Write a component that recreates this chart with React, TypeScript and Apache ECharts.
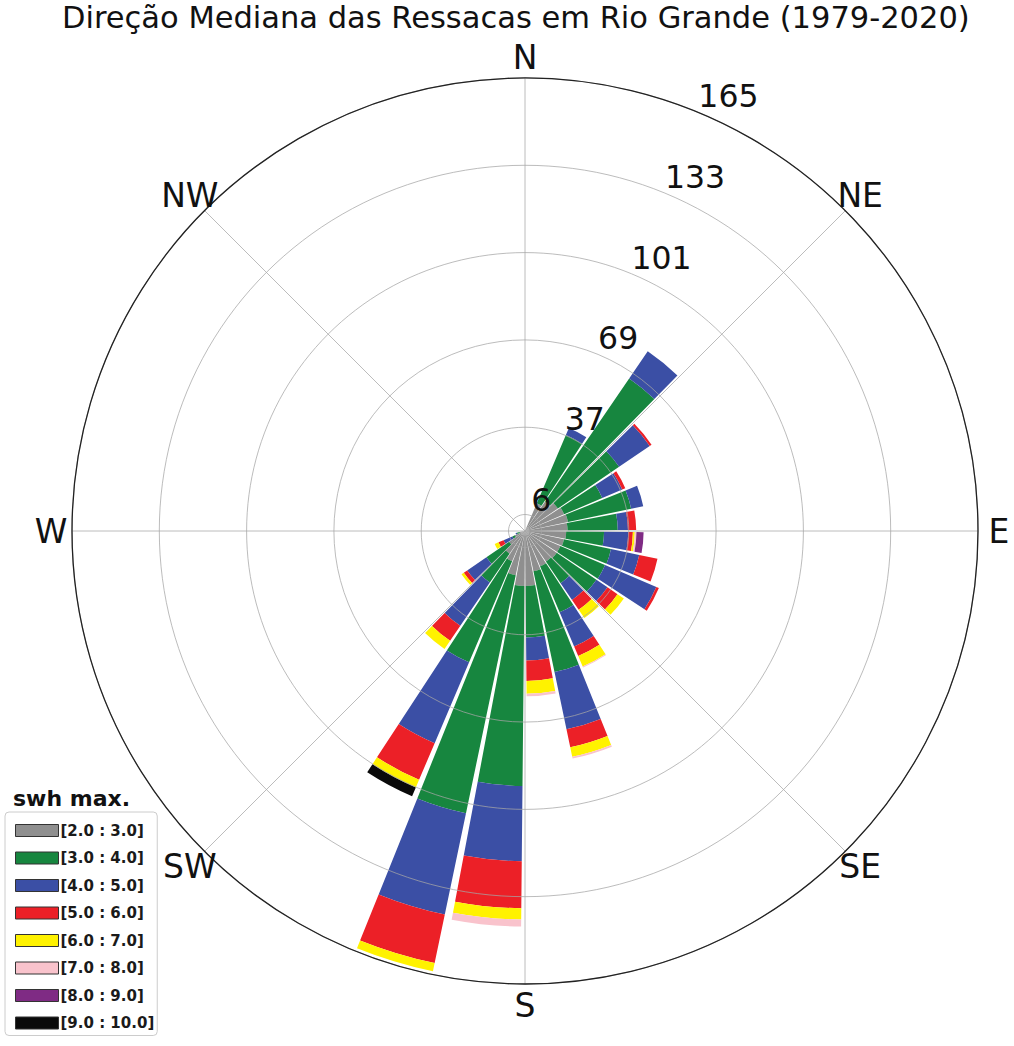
import React, { useEffect, useRef } from "react";
import * as echarts from "echarts";

// 32 direction sectors of 11.25°, starting at N and going clockwise
const sectors = Array.from({ length: 32 }, (_, i) => `S${i}`);

const classNames = [
  "[2.0 : 3.0]",
  "[3.0 : 4.0]",
  "[4.0 : 5.0]",
  "[5.0 : 6.0]",
  "[6.0 : 7.0]",
  "[7.0 : 8.0]",
  "[8.0 : 9.0]",
  "[9.0 : 10.0]",
];
const classColors = ["#8f8f8f", "#17863f", "#3b4fa5", "#ec2027", "#fff200", "#f9c3cc", "#7f2b84", "#0a0a0a"];

// segment sizes per sector (stacked)
const swh2_3 = [0, 0, 11, 13, 14.5, 15.5, 16, 15.5, 15, 14.5, 14, 14, 13.5, 14, 15, 20, 20, 16.5, 12, 10, 7, 4, 2, 0, 0, 0, 0, 0, 0, 0, 0, 0];
const swh3_4 = [0, 0, 27, 54.3, 27, 15.1, 23.5, 18.3, 13.8, 17.5, 17.7, 17.5, 9.5, 18.2, 37.5, 18.8, 72.9, 88.5, 40, 12.7, 10, 1, 1, 0, 0, 0, 0, 0, 0, 0, 0, 0];
const swh4_5 = [0, 0, 2.8, 12, 13.5, 7.9, 4.5, 3.7, 8.8, 10.5, 20.3, 4.9, 7.4, 13.5, 21.3, 8.4, 27.4, 37.7, 32, 19.1, 8.5, 3.5, 0.5, 0, 0, 0, 0, 0, 0, 0, 0, 0];
const swh5_6 = [0, 0, 0, 0, 0.8, 1.2, 0, 3, 1.7, 6.8, 1, 4.4, 4.3, 3.8, 6.7, 7.4, 17.1, 18.1, 14.5, 6.6, 1.5, 2, 0, 0, 0, 0, 0, 0, 0, 0, 0, 0];
const swh6_7 = [0, 0, 0, 0, 0, 0, 0, 0, 0.7, 0, 0, 2.8, 3.7, 4.1, 3.5, 4.7, 4.1, 3, 3, 3.6, 1, 1.5, 0, 0, 0, 0, 0, 0, 0, 0, 0, 0];
const swh7_8 = [0, 0, 0, 0, 0, 0, 0, 0, 0.6, 0, 0, 0, 0, 0.4, 0.7, 0.9, 2.6, 0, 0, 0, 0, 0, 0, 0, 0, 0, 0, 0, 0, 0, 0, 0];
const swh8_9 = [0, 0, 0, 0, 0, 0, 0, 0, 2.6, 0, 0, 0, 0, 0, 0, 0, 0, 0, 0, 0, 0, 0, 0, 0, 0, 0, 0, 0, 0, 0, 0, 0];
const swh9_10 = [0, 0, 0, 0, 0, 0, 0, 0, 0, 0, 0, 0, 0, 0, 0, 0, 0, 0, 3.5, 0, 0, 0, 0, 0, 0, 0, 0, 0, 0, 0, 0, 0];

const classData = [swh2_3, swh3_4, swh4_5, swh5_6, swh6_7, swh7_8, swh8_9, swh9_10];

const dirLabels = ["N", "NE", "E", "SE", "S", "SW", "W", "NW"];
const radialTicks = [6, 37.8, 69.6, 101.4, 133.2, 165];
const radialLabels = ["6", "37", "69", "101", "133", "165"];
const RMAX = 165;

const CX = 525;
const CY = 531;
const R = 453;
const LABEL_R = 474;
const FONT = "DejaVu Sans";

export default function App() {
  const ref = useRef<HTMLDivElement>(null);

  useEffect(() => {
    if (!ref.current) return;
    const chart = echarts.init(ref.current, null, { renderer: "svg" });
    const gridLine = { color: "rgba(165,165,165,0.75)", width: 1 };
    const innerR = (R * radialTicks[0]) / RMAX;

    const dirTexts = dirLabels.map((t, i) => {
      const a = (i * 45 * Math.PI) / 180;
      return {
        type: "text",
        z: 10,
        x: CX + LABEL_R * Math.sin(a),
        y: CY - LABEL_R * Math.cos(a),
        style: {
          text: t,
          fontSize: 33,
          lineHeight: 28,
          fontFamily: FONT,
          fill: "#111",
          align: "center",
          verticalAlign: "middle",
        },
      };
    });

    const option: any = {
      animation: false,
      backgroundColor: "#ffffff",
      title: [
        {
          text: "Direção Mediana das Ressacas em Rio Grande (1979-2020)",
          left: 62,
          top: 3,
          padding: 0,
          textStyle: { fontSize: 30.5, lineHeight: 28, fontWeight: "normal", fontFamily: FONT, color: "#111" },
        },
        {
          text: "swh max.",
          left: 13,
          top: 787,
          padding: 0,
          textStyle: { fontSize: 22, fontWeight: "bold", fontFamily: FONT, color: "#111" },
        },
      ],
      graphic: dirTexts,
      legend: {
        orient: "vertical",
        left: 5,
        top: 812,
        padding: [11, 3, 5, 10],
        itemWidth: 43,
        itemHeight: 12,
        itemGap: 12.5,
        icon: "rect",
        backgroundColor: "#ffffff",
        borderColor: "#cccccc",
        borderWidth: 1,
        borderRadius: 4,
        itemStyle: { borderColor: "#333", borderWidth: 1 },
        textStyle: { fontSize: 15, fontWeight: "bold", fontFamily: FONT, color: "#1a1a1a", padding: [0, 0, 0, -3] },
        data: classNames,
      },
      polar: [
        { center: [CX, CY], radius: [0, R] },
        { center: [CX, CY], radius: [0, R] },
        { center: [CX, CY], radius: [innerR, R] },
      ],
      angleAxis: [
        {
          polarIndex: 0,
          type: "category",
          data: sectors,
          startAngle: 90,
          clockwise: true,
          boundaryGap: true,
          axisLine: { show: false },
          axisTick: { show: false },
          axisLabel: { show: false },
          splitLine: { show: false },
        },
        {
          polarIndex: 1,
          type: "value",
          min: 0,
          max: 360,
          interval: 45,
          startAngle: 90,
          clockwise: true,
          z: 5,
          axisLine: { show: true, lineStyle: { color: "#222", width: 1.3 } },
          axisTick: { show: false },
          axisLabel: { show: false },
          splitLine: { show: true, lineStyle: gridLine },
        },
        {
          polarIndex: 2,
          type: "value",
          min: 0,
          max: 360,
          startAngle: 67.5,
          clockwise: true,
          show: false,
        },
      ],
      radiusAxis: [
        { polarIndex: 0, type: "value", min: 0, max: RMAX, show: false },
        { polarIndex: 1, type: "value", min: 0, max: 1, show: false },
        {
          polarIndex: 2,
          type: "value",
          min: 0,
          max: radialTicks.length - 1,
          interval: 1,
          z: 5,
          axisLine: { show: false },
          axisTick: { show: false },
          axisLabel: {
            margin: 0,
            align: "left",
            verticalAlign: "bottom",
            fontSize: 31.5,
            fontFamily: FONT,
            color: "#111",
            formatter: (v: number) => radialLabels[Math.round(v)] ?? "",
          },
          splitLine: { show: true, lineStyle: gridLine },
        },
      ],
      series: classNames.map((name, i) => ({
        name,
        type: "bar",
        coordinateSystem: "polar",
        polarIndex: 0,
        stack: "total",
        barCategoryGap: "10%",
        data: classData[i],
        itemStyle: { color: classColors[i] },
      })),
    };
    chart.setOption(option);
    return () => chart.dispose();
  }, []);

  return (
    <div
      ref={ref}
      style={{ position: "fixed", left: 0, top: 0, width: 1014, height: 1046, background: "#fff" }}
    />
  );
}
